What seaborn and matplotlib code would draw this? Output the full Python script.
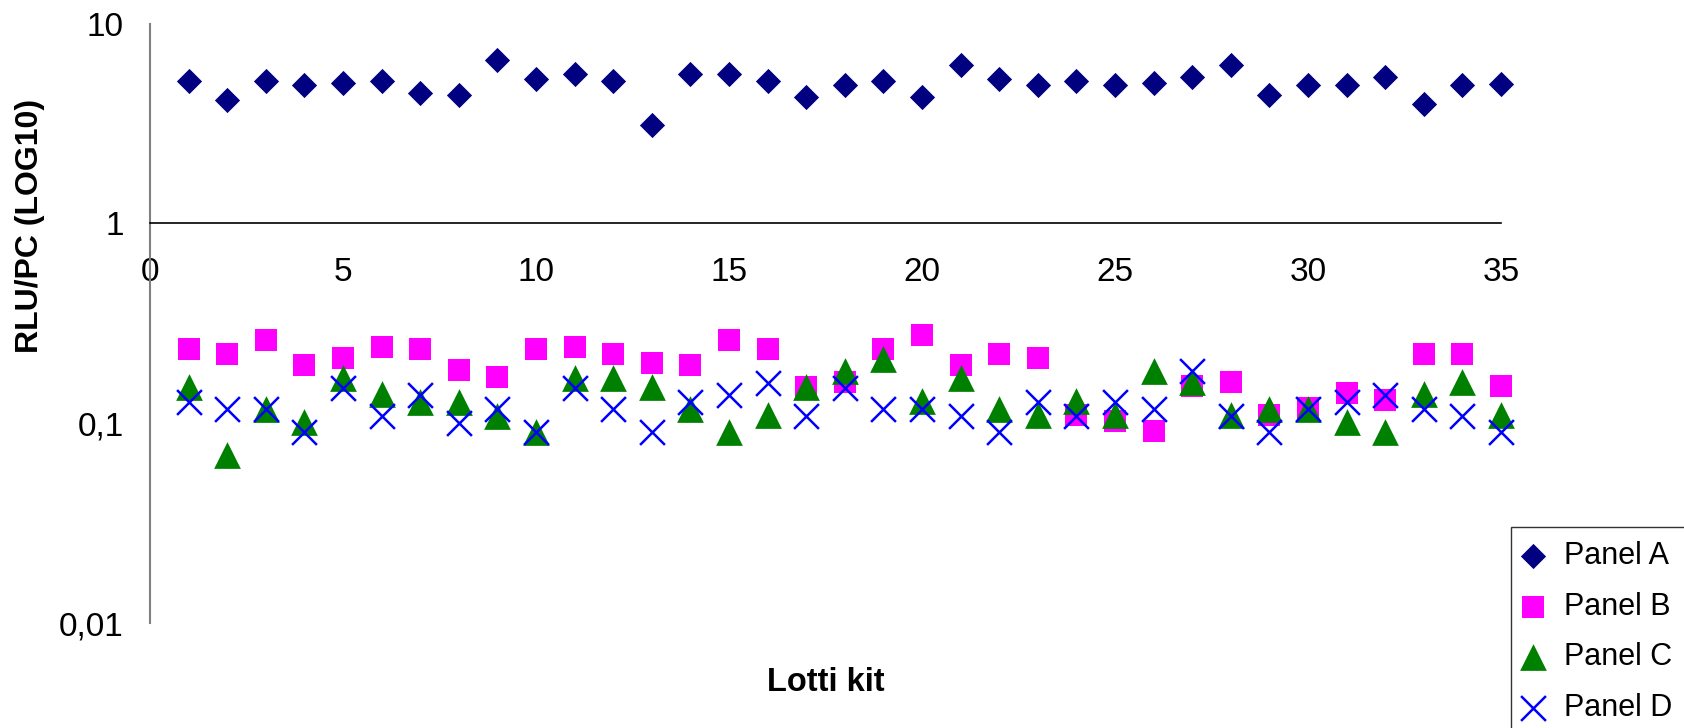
import numpy as np
import pandas as pd
import matplotlib
matplotlib.use("Agg")
import matplotlib.pyplot as plt
import seaborn as sns

lotti = list(range(1, 36))

panel_a = [5.15, 4.15, 5.15, 4.9, 5.03, 5.15, 4.5, 4.38, 6.58, 5.31,
           5.62, 5.15, 3.09, 5.6, 5.6, 5.15, 4.28, 4.9, 5.15, 4.28,
           6.24, 5.31, 4.9, 5.15, 4.9, 5.03, 5.43, 6.24, 4.38, 4.9,
           4.9, 5.43, 3.94, 4.9, 5.01]
panel_b = [0.235, 0.223, 0.262, 0.195, 0.211, 0.242, 0.235, 0.185, 0.170, 0.235,
           0.242, 0.223, 0.200, 0.195, 0.262, 0.235, 0.152, 0.161, 0.235, 0.277,
           0.195, 0.223, 0.211, 0.110, 0.102, 0.091, 0.153, 0.161, 0.110, 0.119,
           0.141, 0.130, 0.223, 0.223, 0.153]
panel_c = [0.152, 0.069, 0.118, 0.101, 0.168, 0.140, 0.128, 0.128, 0.109, 0.090,
           0.168, 0.168, 0.152, 0.118, 0.090, 0.110, 0.152, 0.182, 0.210, 0.129,
           0.169, 0.118, 0.110, 0.129, 0.110, 0.182, 0.160, 0.110, 0.118, 0.118,
           0.101, 0.090, 0.140, 0.160, 0.110]
panel_d = [0.128, 0.118, 0.118, 0.090, 0.150, 0.109, 0.139, 0.100, 0.118, 0.090,
           0.150, 0.118, 0.090, 0.128, 0.139, 0.159, 0.109, 0.150, 0.118, 0.118,
           0.109, 0.090, 0.128, 0.109, 0.128, 0.118, 0.182, 0.109, 0.090, 0.118,
           0.128, 0.139, 0.118, 0.109, 0.090]

panels = ["Panel A", "Panel B", "Panel C", "Panel D"]
colors = ["#000080", "#FF00FF", "#008000", "#0000FF"]
markers = ["D", "s", "^", "x"]
sizes = [165, 270, 370, 320]

yticks = [0.01, 0.1, 1, 10]
ytick_labels = ["0,01", "0,1", "1", "10"]
xticks = [0, 5, 10, 15, 20, 25, 30, 35]

df = pd.DataFrame({
    "lotto": lotti * 4,
    "value": panel_a + panel_b + panel_c + panel_d,
    "panel": np.repeat(panels, len(lotti)),
})

sns.set_style("white")
plt.rcParams["font.family"] = ["Liberation Sans", "DejaVu Sans"]
plt.rcParams["text.color"] = "black"
plt.rcParams["axes.labelcolor"] = "black"
plt.rcParams["xtick.labelcolor"] = "black"
plt.rcParams["ytick.labelcolor"] = "black"

fig, ax = plt.subplots(figsize=(16.84, 7.28), dpi=100)
fig.subplots_adjust(left=0.0891, right=0.8913, top=0.9676, bottom=0.1442)

for name, col, mk, sz in zip(panels, colors, markers, sizes):
    sub = df[df["panel"] == name]
    if mk == "x":
        sns.scatterplot(data=sub, x="lotto", y="value", marker=mk, color=col,
                        s=sz, linewidth=1.8, label=name, ax=ax, clip_on=False,
                        zorder=3)
    else:
        sns.scatterplot(data=sub, x="lotto", y="value", marker=mk, color=col,
                        s=sz, linewidth=0, edgecolor=col, label=name, ax=ax,
                        clip_on=False, zorder=3)

ax.set_yscale("log")
ax.set_ylim(0.01, 10)
ax.set_xlim(0, 35)
ax.set_yticks(yticks)
ax.set_yticklabels(ytick_labels)
ax.yaxis.set_minor_locator(matplotlib.ticker.NullLocator())
ax.set_xticks(xticks)
ax.set_xticklabels([str(t) for t in xticks])

ax.spines["top"].set_visible(False)
ax.spines["right"].set_visible(False)
ax.spines["bottom"].set_position(("data", 1))
ax.spines["bottom"].set_color("black")
ax.spines["bottom"].set_linewidth(1.2)
ax.spines["left"].set_color("#808080")
ax.spines["left"].set_linewidth(1.5)

ax.tick_params(axis="x", direction="out", length=7, width=1.2, color="#606060",
               labelsize=24, pad=17)
ax.tick_params(axis="y", direction="out", length=7, width=1.2, color="black",
               labelsize=24, pad=12)

ax.set_xlabel("Lotti kit", fontsize=23.5, fontweight="bold")
ax.xaxis.set_label_coords(0.5, -0.1)
ax.xaxis.label.set_va("center")
ax.set_ylabel("RLU/PC (LOG10)", fontsize=23, fontweight="bold")
ax.yaxis.set_label_coords(-0.089, 0.663)
ax.yaxis.label.set_va("center")

leg = ax.legend(loc="upper left", bbox_to_anchor=(1511 / 1684, 1 - 527 / 728),
                bbox_transform=fig.transFigure, fontsize=22, frameon=True,
                fancybox=False, edgecolor="black", borderaxespad=0,
                handlelength=0.55, handletextpad=0.75, labelspacing=0.68,
                borderpad=0.45)
leg.get_frame().set_linewidth(1.0)

fig.savefig("out.png", dpi=100)
